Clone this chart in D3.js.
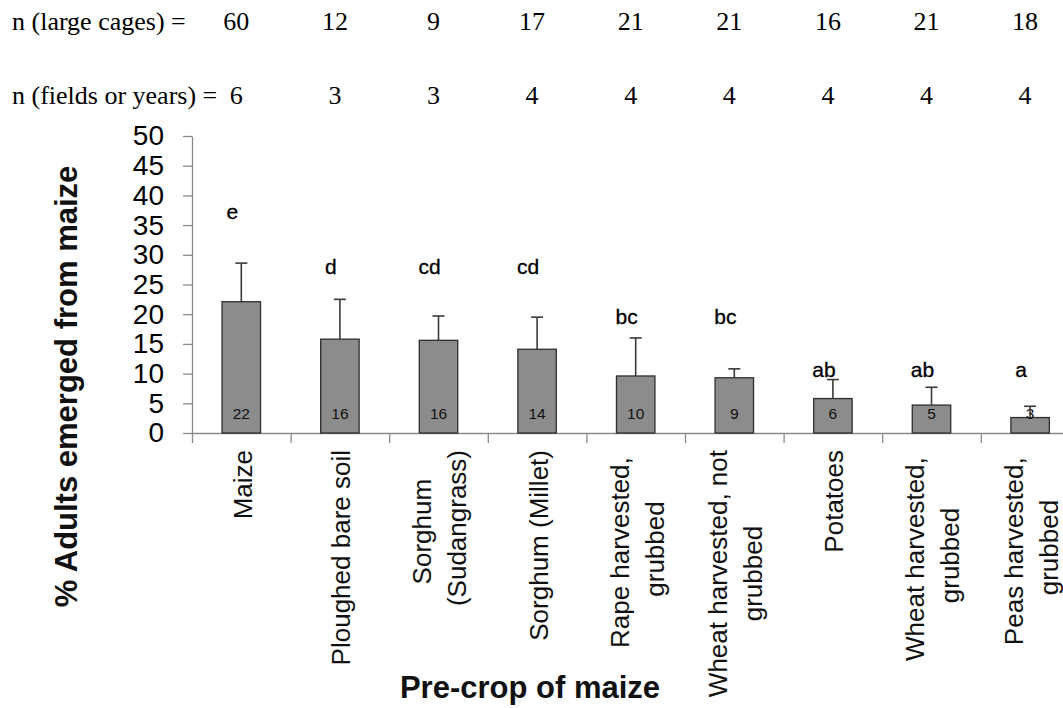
<!DOCTYPE html>
<html><head><meta charset="utf-8">
<script src="https://cdn.jsdelivr.net/npm/d3@7/dist/d3.min.js"></script>
<style>
html,body{margin:0;padding:0;background:#fff;overflow:hidden}
svg{display:block}
</style></head><body>
<svg id="chart" width="1063" height="708"></svg>
<script>
// ---- data ----
const categories = ["Maize","Ploughed bare soil","Sorghum (Sudangrass)","Sorghum (Millet)","Rape harvested, grubbed","Wheat harvested, not grubbed","Potatoes","Wheat harvested, grubbed","Peas harvested, grubbed"];
const categoryLines = [["Maize"],["Ploughed bare soil"],["Sorghum ","(Sudangrass)"],["Sorghum (Millet)"],["Rape harvested, ","grubbed"],["Wheat harvested, not","grubbed"],["Potatoes"],["Wheat harvested, ","grubbed"],["Peas harvested, ","grubbed"]];
const means = [22.1, 15.8, 15.6, 14.1, 9.6, 9.3, 5.8, 4.7, 2.6];
const errors = [6.5, 6.7, 4.1, 5.4, 6.4, 1.5, 3.2, 3.0, 1.9];
const letters = ["e","d","cd","cd","bc","bc","ab","ab","a"];
const letterLevels = [36, 26.7, 26.7, 26.7, 18.3, 18.3, 9.4, 9.4, 9.4];
const nCages = [60, 12, 9, 17, 21, 21, 16, 21, 18];
const nFields = [6, 3, 3, 4, 4, 4, 4, 4, 4];
const rowLabels = ["n (large cages) =", "n (fields or years) ="];
const yTicks = [0, 5, 10, 15, 20, 25, 30, 35, 40, 45, 50];
const yTitle = "% Adults emerged from maize";
const xTitle = "Pre-crop of maize";

(function () {
// ---- layout ----
const mLeft = 192, mTop = 136, mBottom = 433, step = 98.6;
const mRight = mLeft + step * categories.length;
const sans = "'Liberation Sans', Arial, sans-serif";
const serif = "'Liberation Serif', 'Times New Roman', serif";

const svg = d3.select("#chart");
const x = d3.scaleBand().domain(categories).range([mLeft, mRight]).paddingInner(0).paddingOuter(0);
const y = d3.scaleLinear().domain([0, 50]).range([mBottom, mTop]);
const xb = d3.scaleLinear().domain([0, categories.length]).range([mLeft, mRight]);
const cx = c => x(c) + x.bandwidth() / 2;
const barW = x.bandwidth() * 0.39;

// y axis
const yAx = svg.append("g").attr("transform", `translate(${mLeft},0)`)
  .call(d3.axisLeft(y).tickValues(yTicks).tickSize(9).tickSizeOuter(0).tickPadding(19));
yAx.select(".domain").attr("stroke", "#8a8a8a").attr("stroke-width", 1.3);
yAx.selectAll(".tick line").attr("stroke", "#8a8a8a").attr("stroke-width", 1.3);
yAx.selectAll(".tick text").attr("font-family", sans).attr("font-size", 28).attr("fill", "#000");

// x axis (boundary ticks)
const xAx = svg.append("g").attr("transform", `translate(0,${mBottom})`)
  .call(d3.axisBottom(xb).tickValues(d3.range(categories.length + 1)).tickFormat("").tickSize(10).tickSizeOuter(0));
xAx.select(".domain").attr("stroke", "#8a8a8a").attr("stroke-width", 1.3);
xAx.selectAll(".tick line").attr("stroke", "#8a8a8a").attr("stroke-width", 1.3);

const data = categories.map((c, i) => ({c, m: means[i], e: errors[i], l: letters[i], ll: letterLevels[i], lines: categoryLines[i]}));

// bars
svg.append("g").selectAll("rect").data(data).join("rect")
  .attr("x", d => cx(d.c) - barW / 2)
  .attr("y", d => y(d.m))
  .attr("width", barW)
  .attr("height", d => y(0) - y(d.m))
  .attr("fill", "#8c8c8c").attr("stroke", "#2e2e2e").attr("stroke-width", 1.3);

// value labels in bars
svg.append("g").selectAll("text").data(data).join("text")
  .attr("x", d => cx(d.c)).attr("y", y(0) - 14)
  .attr("text-anchor", "middle").attr("font-family", sans).attr("font-size", 15.5).attr("fill", "#111")
  .text(d => Math.round(d.m));

// error bars
const eb = svg.append("g").attr("stroke", "#3a3a3a").attr("stroke-width", 1.6);
eb.selectAll("line.v").data(data).join("line").attr("class", "v")
  .attr("x1", d => cx(d.c)).attr("x2", d => cx(d.c))
  .attr("y1", d => y(d.m)).attr("y2", d => y(d.m + d.e));
eb.selectAll("line.h").data(data).join("line").attr("class", "h")
  .attr("x1", d => cx(d.c) - 6).attr("x2", d => cx(d.c) + 6)
  .attr("y1", d => y(d.m + d.e)).attr("y2", d => y(d.m + d.e));

// significance letters
svg.append("g").selectAll("text").data(data).join("text")
  .attr("x", d => cx(d.c) - 9).attr("y", d => y(d.ll))
  .attr("text-anchor", "middle").attr("font-family", sans).attr("font-size", 21).attr("fill", "#000")
  .attr("stroke", "#000").attr("stroke-width", 0.3)
  .text(d => d.l);

// top n rows
const rows = [nCages, nFields];
const rowY = [29.5, 104];
rows.forEach((vals, r) => {
  const g = svg.append("g").attr("font-family", serif).attr("font-size", 26).attr("fill", "#000");
  g.append("text").attr("x", 12).attr("y", rowY[r]).text(rowLabels[r]);
  g.selectAll("text.n").data(vals).join("text").attr("class", "n")
    .attr("x", (v, i) => cx(categories[i]) - 5).attr("y", rowY[r])
    .attr("text-anchor", "middle").text(v => v);
});

// category labels (rotated, wrapped, centered lines)
const labTop = 450, lineH = 35, fsCat = 26;
data.forEach(d => {
  const g = svg.append("g").attr("transform", `translate(${cx(d.c)},${labTop}) rotate(-90)`)
    .attr("font-family", sans).attr("font-size", fsCat).attr("fill", "#111");
  const texts = d.lines.map(ln => g.append("text").style("white-space", "pre").text(ln));
  const maxW = d3.max(texts, t => t.node().getComputedTextLength());
  const n = d.lines.length;
  texts.forEach((t, i) => {
    t.attr("text-anchor", "middle").attr("x", -maxW / 2)
     .attr("y", (i - (n - 1) / 2) * lineH + fsCat * 0.4);
  });
});

// axis titles
svg.append("text").attr("transform", `translate(77,386.5) rotate(-90)`)
  .attr("text-anchor", "middle").attr("font-family", sans).attr("font-weight", "bold").attr("font-size", 31).attr("fill", "#111")
  .text(yTitle);
svg.append("text").attr("x", 530).attr("y", 698)
  .attr("text-anchor", "middle").attr("font-family", sans).attr("font-weight", "bold").attr("font-size", 31).attr("fill", "#111")
  .text(xTitle);
})();
</script>
</body></html>
